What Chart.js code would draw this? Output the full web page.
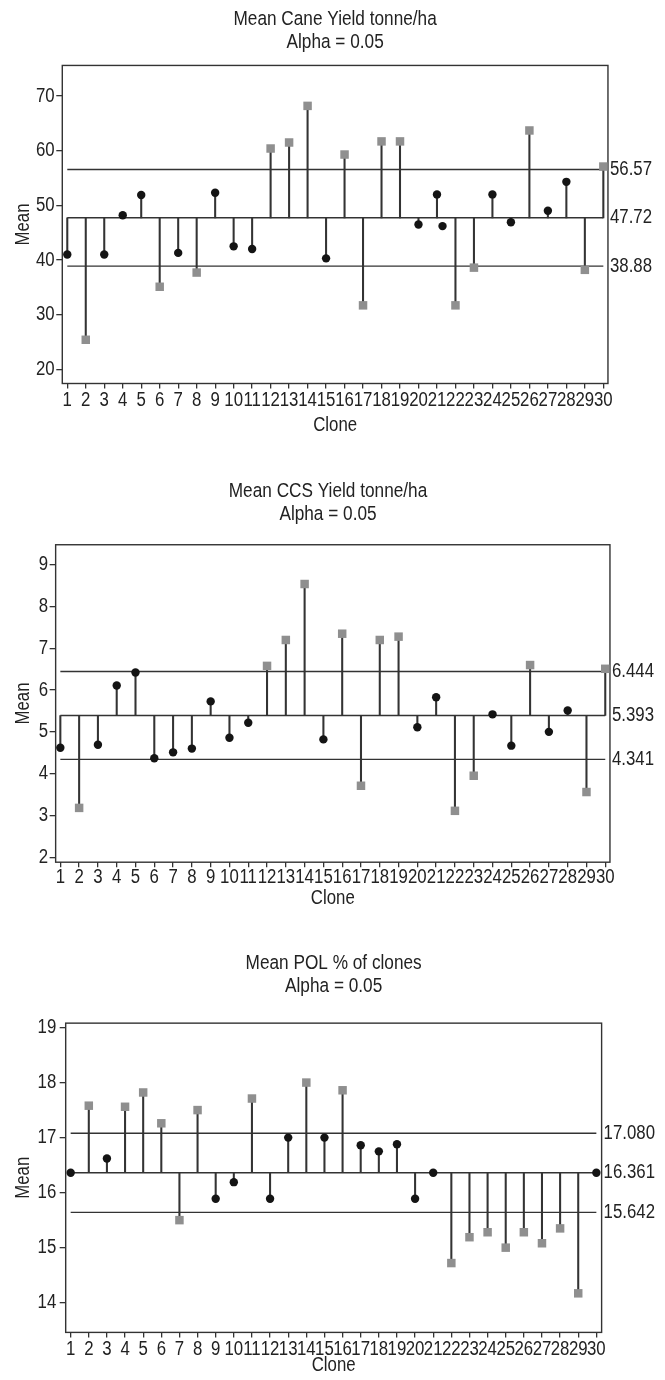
<!DOCTYPE html>
<html>
<head>
<meta charset="utf-8">
<script src="https://cdn.jsdelivr.net/npm/chart.js@4.4.1/dist/chart.umd.min.js"></script>
<style>
  html, body { margin: 0; padding: 0; background: #fff; }
  body { width: 665px; height: 1380px; position: relative; overflow: hidden; }
  canvas { position: absolute; left: 0; }
</style>
</head>
<body>
<canvas id="cane"></canvas>
<canvas id="ccs"></canvas>
<canvas id="pol"></canvas>
<script>
// clone numbers on the x axis
const clones = [1, 2, 3, 4, 5, 6, 7, 8, 9, 10, 11, 12, 13, 14, 15, 16, 17, 18, 19, 20,
  21, 22, 23, 24, 25, 26, 27, 28, 29, 30];

// mean cane yield (tonne/ha), limits = [upper, centre, lower]
const caneMeans = [41.0, 25.4, 41.0, 48.2, 51.9, 35.1, 41.3, 37.7, 52.3, 42.5,
  42.0, 60.4, 61.5, 68.2, 40.3, 59.3, 31.7, 61.7, 61.7, 46.5,
  52.0, 31.7, 38.6, 52.0, 46.9, 63.7, 49.0, 54.3, 38.2, 57.1];
const caneLimits = [56.57, 47.72, 38.88];
const caneExtra = [{ x: 21.3, y: 46.2 }]; // stray dot printed next to clone 21

// mean CCS yield (tonne/ha)
const ccsMeans = [4.62, 3.18, 4.69, 6.11, 6.42, 4.37, 4.51, 4.60, 5.73, 4.86,
  5.22, 6.58, 7.20, 8.54, 4.82, 7.35, 3.71, 7.20, 7.28, 5.11,
  5.83, 3.11, 3.95, 5.42, 4.67, 6.60, 5.00, 5.51, 3.56, 6.51];
const ccsLimits = [6.444, 5.393, 4.341];

// mean POL %
const polMeans = [16.36, 17.58, 16.62, 17.56, 17.82, 17.26, 15.50, 17.50, 15.89, 16.19,
  17.71, 15.89, 17.00, 18.00, 17.00, 17.86, 16.86, 16.75, 16.88, 15.89,
  16.36, 14.72, 15.19, 15.28, 15.00, 15.28, 15.08, 15.35, 14.17, 16.36];
const polLimits = [17.080, 16.361, 15.642];

Chart.defaults.font.family = '"Liberation Sans", Arial, sans-serif';
Chart.defaults.font.size = 20;
Chart.defaults.color = '#222';

const INK = '#333';
const NARROW = 0.84; // no narrow font installed, so squeeze text horizontally

// squeeze every text drawn on this context, and report the squeezed width
function condense(ctx, k) {
  const fill = ctx.fillText.bind(ctx);
  const measure = ctx.measureText.bind(ctx);
  ctx.fillText = (text, x, y) => fill(text, x, y, measure(text).width * k);
  ctx.measureText = text => {
    const m = measure(text);
    return {
      width: m.width * k,
      actualBoundingBoxLeft: m.actualBoundingBoxLeft * k,
      actualBoundingBoxRight: m.actualBoundingBoxRight * k,
      actualBoundingBoxAscent: m.actualBoundingBoxAscent,
      actualBoundingBoxDescent: m.actualBoundingBoxDescent,
      fontBoundingBoxAscent: m.fontBoundingBoxAscent,
      fontBoundingBoxDescent: m.fontBoundingBoxDescent
    };
  };
}

// box round the plot area
const framePlugin = {
  id: 'frame',
  beforeDatasetsDraw(chart) {
    const { ctx, chartArea: a } = chart;
    ctx.save();
    ctx.strokeStyle = INK;
    ctx.lineWidth = 1.4;
    ctx.strokeRect(a.left, a.top, a.right - a.left, a.bottom - a.top);
    ctx.restore();
  }
};

function makeChart(id, o) {
  const canvas = document.getElementById(id);
  canvas.width = 665;
  canvas.height = o.height;
  canvas.style.top = o.top + 'px';
  const ctx = canvas.getContext('2d');
  condense(ctx, NARROW);

  const [ucl, centre, lcl] = o.limits;
  const circles = [], squares = [];
  o.means.forEach((v, i) => {
    const pt = { x: clones[i], y: v };
    if (v > ucl || v < lcl) squares.push(pt); else circles.push(pt);
  });
  (o.extra || []).forEach(p => circles.push(p));

  const stems = o.means.map((v, i) => ({ x: clones[i], y: [centre, v] }));
  const limitLines = o.limits.map(v => ({
    type: 'line',
    data: [{ x: clones[0], y: v }, { x: clones[clones.length - 1], y: v }],
    borderColor: INK,
    borderWidth: 1.4,
    pointRadius: 0
  }));

  new Chart(ctx, {
    type: 'bar',
    data: {
      datasets: [
        { type: 'scatter', data: circles, pointStyle: 'circle', pointRadius: 4.2,
          backgroundColor: '#141414', borderWidth: 0, clip: false },
        { type: 'scatter', data: squares, pointStyle: 'rect', pointRadius: 6,
          backgroundColor: '#8f8f8f', borderWidth: 0, clip: false },
        { type: 'bar', data: stems, backgroundColor: INK, barThickness: 1.4, borderWidth: 0 },
        ...limitLines
      ]
    },
    options: {
      responsive: false,
      animation: false,
      devicePixelRatio: 1,
      layout: { autoPadding: false, padding: { left: 0, top: 0, bottom: 0, right: o.padRight } },
      plugins: {
        legend: { display: false },
        tooltip: { enabled: false },
        title: {
          display: true,
          text: o.title,
          fullSize: o.titleFull,
          color: '#222',
          font: { size: 20.5, weight: 'normal', lineHeight: 1.14 },
          padding: { top: 7.5, bottom: o.titleGap }
        }
      },
      scales: {
        x: {
          type: 'linear',
          min: o.xMin,
          max: o.xMax,
          offset: false,
          afterBuildTicks: ax => { ax.ticks = clones.map(c => ({ value: c })); },
          ticks: { autoSkip: false, maxRotation: 0, minRotation: 0, padding: o.xTickPad,
            font: { size: 20, lineHeight: 1 } },
          grid: { drawOnChartArea: false, drawTicks: true, tickLength: 5, color: INK, lineWidth: 1.3, offset: false },
          border: { display: false },
          title: { display: true, text: 'Clone', font: { size: 20, lineHeight: 1 },
            padding: { top: o.xTitlePad, bottom: 0 } }
        },
        y: {
          min: o.yMin,
          max: o.yMax,
          ticks: { stepSize: o.yStep, includeBounds: false, padding: o.yTickPad,
            font: { size: 20, lineHeight: 1 } },
          grid: { drawOnChartArea: false, drawTicks: true, tickLength: 6, color: INK, lineWidth: 1.3 },
          border: { display: false },
          title: { display: true, text: 'Mean', font: { size: 20, lineHeight: 1 },
            padding: { top: 13.3, bottom: o.yTitlePad } }
        },
        y2: {
          position: 'right',
          min: o.yMin,
          max: o.yMax,
          afterBuildTicks: ax => { ax.ticks = o.limits.slice().reverse().map(v => ({ value: v })); },
          ticks: { autoSkip: false, padding: 2, callback: v => Number(v).toFixed(o.dec),
            font: { size: 20, lineHeight: 1 } },
          grid: { display: false, drawTicks: false, tickLength: 0 },
          border: { display: false }
        }
      }
    },
    plugins: [framePlugin]
  });
}

makeChart('cane', {
  top: 0, height: 435,
  title: ['Mean Cane Yield tonne/ha', 'Alpha = 0.05'], titleFull: false, titleGap: 11.2,
  means: caneMeans, limits: caneLimits, extra: caneExtra, dec: 2,
  xMin: 0.73, xMax: 30.25, yMin: 17.4, yMax: 75.6, yStep: 10,
  xTickPad: 2, xTitlePad: 2.5, yTickPad: 1.7, yTitlePad: 0.9, padRight: 11
});

makeChart('ccs', {
  top: 472, height: 436,
  title: ['Mean CCS Yield tonne/ha', 'Alpha = 0.05'], titleFull: true, titleGap: 18.5,
  means: ccsMeans, limits: ccsLimits, dec: 3,
  xMin: 0.75, xMax: 30.25, yMin: 1.88, yMax: 9.48, yStep: 1,
  xTickPad: 0, xTitlePad: 0.8, yTickPad: 1.6, yTitlePad: 3.8, padRight: 9
});

makeChart('pol', {
  top: 944, height: 431,
  title: ['Mean POL % of clones', 'Alpha = 0.05'], titleFull: false, titleGap: 24.9,
  means: polMeans, limits: polLimits, dec: 3,
  xMin: 0.725, xMax: 30.29, yMin: 13.46, yMax: 19.08, yStep: 1,
  xTickPad: 2.4, xTitlePad: -7.2, yTickPad: 3.4, yTitlePad: 0.9, padRight: 8
});
</script>
</body>
</html>
